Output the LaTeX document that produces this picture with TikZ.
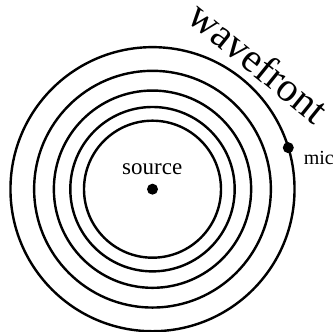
\documentclass[tikz,border=0pt]{standalone}
\usepackage{fontspec}
\setmainfont{Liberation Serif}
\usetikzlibrary{calc, positioning}

\begin{document}
\begin{tikzpicture}[
  x=0.4348pt, y=0.4348pt,
  wave/.style={draw=black, line width=1.05pt},
  dot/.style={circle, fill=black, inner sep=0pt, minimum size=4.8pt},
  label/.style={inner sep=0pt, font=\fontsize{10}{12}\selectfont}
]
  \useasboundingbox (0,0) rectangle (336,332);

  % source and its wavefronts
  \node[dot] (src) at (152.5,142.8) {};
  \foreach \k in {0,...,4}
    \draw[wave] (src.center) circle ({68.5*1.2^\k});

  \node[dot] (mic) at ($(src.center)+(17:142)$) {};

  \node[label, anchor=base] (srclabel) at (152.2,157.7) {source};
  \node[label, anchor=base west, font=\fontsize{8.7}{10}\selectfont] (miclabel) at (303.3,167) {mic};
  \node[label, rotate=-39, font=\fontsize{17.8}{20}\selectfont] (wavelabel) at (259,270) {wavefront};
\end{tikzpicture}
\end{document}
